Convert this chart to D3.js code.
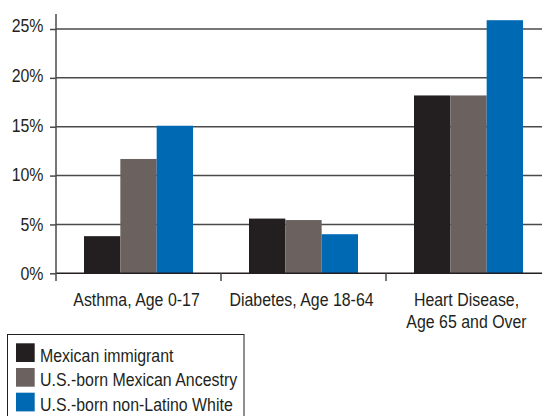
<!DOCTYPE html>
<html>
<head>
<meta charset="utf-8">
<script src="https://cdn.jsdelivr.net/npm/d3@7"></script>
<style>
  html, body { margin: 0; padding: 0; background: #fff; }
  svg text { font-family: "Liberation Sans", Arial, sans-serif; fill: #231f20; }
</style>
</head>
<body>
<svg id="chart" width="542" height="416"></svg>
<script>
// Prevalence of chronic conditions by group (percent)
const categories = ["Asthma, Age 0-17", "Diabetes, Age 18-64", "Heart Disease, Age 65 and Over"];
const categoryLines = [["Asthma, Age 0-17"], ["Diabetes, Age 18-64"], ["Heart Disease,", "Age 65 and Over"]];
const seriesNames = ["Mexican immigrant", "U.S.-born Mexican Ancestry", "U.S.-born non-Latino White"];
const mexicanImmigrant = [3.8, 5.6, 18.2];
const usBornMexican = [11.7, 5.45, 18.2];
const usBornWhite = [15.1, 4.0, 25.9];
const yTicks = [0, 5, 10, 15, 20, 25];
const colors = ["#231f20", "#6b625f", "#0069b4"];

const series = [mexicanImmigrant, usBornMexican, usBornWhite];

// horizontal compression to get a condensed sans look
const condense = 0.86;
const fontSize = 18.5;

const svg = d3.select("#chart");
const plot = { left: 56, right: 551, top: 14, bottom: 273.3 };

const x = d3.scaleBand().domain(categories).range([plot.left, plot.right]).paddingInner(0).paddingOuter(0);
const barGroupWidth = 109;
const xInner = d3.scaleBand().domain(d3.range(series.length)).range([0, barGroupWidth]).padding(0);
const y = d3.scaleLinear().domain([0, 25]).range([plot.bottom, 29]);
// tick labels sit on a slightly taller ladder than the gridlines
const yLabel = d3.scaleLinear().domain([0, 25]).range([plot.bottom, 25.5]);

// horizontal gridlines
svg.append("g").selectAll("line").data(yTicks.filter(d => d > 0)).join("line")
  .attr("x1", plot.left).attr("x2", plot.right)
  .attr("y1", d => y(d)).attr("y2", d => y(d))
  .attr("stroke", "#4a4a4a").attr("stroke-width", 1.5);

// bars
const groups = svg.append("g").selectAll("g").data(categories).join("g")
  .attr("transform", d => `translate(${x(d) + (x.bandwidth() - barGroupWidth) / 2},0)`);
groups.selectAll("rect").data((c, i) => series.map((s, k) => ({ k, v: s[i] }))).join("rect")
  .attr("x", d => xInner(d.k))
  .attr("width", xInner.bandwidth())
  .attr("y", d => y(d.v))
  .attr("height", d => y(0) - y(d.v))
  .attr("fill", d => colors[d.k]);

// baseline
svg.append("line").attr("x1", plot.left).attr("x2", plot.right)
  .attr("y1", y(0)).attr("y2", y(0)).attr("stroke", "#231f20").attr("stroke-width", 1.5);

// y axis
const yAxis = svg.append("g").attr("transform", `translate(${plot.left},0)`)
  .call(d3.axisLeft(y).tickValues(yTicks).tickSize(6).tickFormat(d => d + "%"));
yAxis.select(".domain").remove();
yAxis.selectAll(".tick line").attr("stroke", "#4a4a4a").attr("stroke-width", 1.5);
yAxis.selectAll(".tick text")
  .attr("x", 0).attr("y", 0).attr("font-size", fontSize).attr("dy", "0.35em")
  .attr("fill", "#231f20")
  .attr("transform", d => `translate(-12.5,${yLabel(d) - y(d)}) scale(${condense},1)`);
svg.append("line").attr("x1", plot.left).attr("x2", plot.left)
  .attr("y1", plot.top).attr("y2", 281).attr("stroke", "#4a4a4a").attr("stroke-width", 1.5);

// category separators below baseline
svg.append("g").selectAll("line").data(categories.slice(1)).join("line")
  .attr("x1", d => x(d)).attr("x2", d => x(d))
  .attr("y1", y(0)).attr("y2", 281)
  .attr("stroke", "#4a4a4a").attr("stroke-width", 1.5);

// category labels
const labels = svg.append("g").selectAll("text").data(categories).join("text")
  .attr("text-anchor", "middle").attr("font-size", fontSize)
  .attr("transform", d => `translate(${x(d) + x.bandwidth() / 2 - 2},305.7) scale(${condense},1)`);
labels.selectAll("tspan").data((d, i) => categoryLines[i]).join("tspan")
  .attr("x", 0)
  .attr("dy", (d, j) => j === 0 ? 0 : 22)
  .text(d => d);

// legend
const legend = svg.append("g");
legend.append("rect").attr("x", 7.5).attr("y", 334.5).attr("width", 236.5).attr("height", 100)
  .attr("fill", "none").attr("stroke", "#231f20").attr("stroke-width", 1);
const items = legend.selectAll("g").data(seriesNames).join("g")
  .attr("transform", (d, i) => `translate(16,${343.3 + i * 24.7})`);
items.append("rect").attr("width", 18.7).attr("height", 18.7).attr("fill", (d, i) => colors[i]);
items.append("text").attr("font-size", fontSize)
  .attr("transform", `translate(24,18.4) scale(${condense},1)`)
  .text(d => d);
</script>
</body>
</html>
